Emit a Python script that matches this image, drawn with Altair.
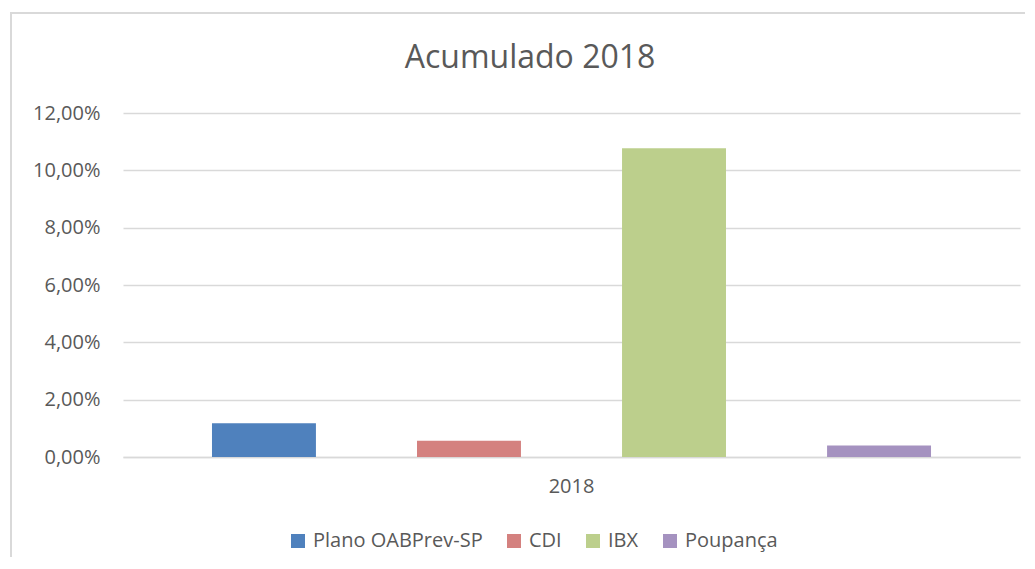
import altair as alt
import pandas as pd

# ---- data ----
series = ["Plano OABPrev-SP", "CDI", "IBX", "Poupança"]
values = [0.0118, 0.0057, 0.1077, 0.0040]
years = ["2018", "2018", "2018", "2018"]
colors = ["#4F81BD", "#D4817F", "#BCCF8C", "#A592C0"]
y_ticks = [0.0, 0.02, 0.04, 0.06, 0.08, 0.10, 0.12]
title_text = "Acumulado 2018"

df = pd.DataFrame({"Ano": years, "Serie": series, "Valor": values})

FONT = "Open Sans"
GREY = "#595959"

bars = alt.Chart(df).mark_bar().encode(
    x=alt.X(
        "Ano:N",
        title=None,
        scale=alt.Scale(paddingInner=0, paddingOuter=0),
        axis=alt.Axis(
            labelAngle=0, ticks=False, grid=False, domain=True,
            domainColor="#d9d9d9", domainWidth=1.5, labelPadding=19,
            labelFontSize=20, labelColor=GREY, labelFont=FONT,
        ),
    ),
    xOffset=alt.XOffset(
        "Serie:N",
        sort=series,
        scale=alt.Scale(paddingInner=0.493, paddingOuter=0.434),
    ),
    y=alt.Y(
        "Valor:Q",
        title=None,
        scale=alt.Scale(domain=[0, 0.12], nice=False),
        axis=alt.Axis(
            values=y_ticks, domain=False, ticks=False, grid=True,
            gridColor="#d9d9d9", gridWidth=1.5, labelPadding=23,
            labelFontSize=20, labelColor=GREY, labelFont=FONT,
            labelExpr="replace(format(datum.value, '.2%'), '.', ',')",
        ),
    ),
    color=alt.Color(
        "Serie:N",
        sort=series,
        scale=alt.Scale(domain=series, range=colors),
        legend=alt.Legend(
            title=None, orient="none", direction="horizontal", columns=4,
            legendX=165, legendY=418, padding=0,
            symbolType="square", symbolSize=196, symbolStrokeWidth=0,
            labelFontSize=20, labelColor=GREY, labelFont=FONT,
            labelOffset=5, columnPadding=21, labelLimit=0,
        ),
    ),
)

one = pd.DataFrame({"k": [0]})

frame = alt.Chart(one).mark_rect(
    fill=None, stroke="#d9d9d9", strokeWidth=2
).encode(
    x=alt.value(-112), x2=alt.value(940),
    y=alt.value(-100), y2=alt.value(480),
)

title = alt.Chart(one).mark_text(
    text=title_text, font=FONT, fontSize=32, color=GREY,
    align="center", baseline="alphabetic",
).encode(x=alt.value(407), y=alt.value(-45))

chart = alt.layer(frame, bars, title).properties(
    width=897,
    height=344,
    padding={"left": 115, "top": 105, "right": 5, "bottom": 100},
    autosize=alt.AutoSizeParams(type="none"),
).configure(
    background="white",
    view=alt.ViewConfig(stroke=None),
)

chart.save("out.html", embed_options={"renderer": "svg", "actions": False})
